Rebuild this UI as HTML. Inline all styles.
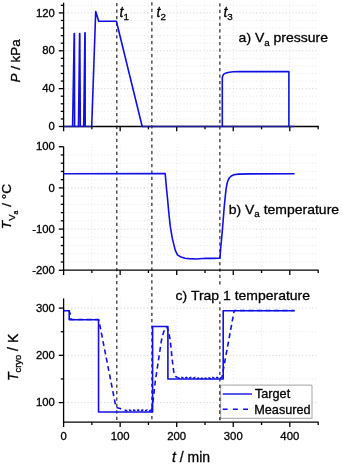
<!DOCTYPE html>
<html><head><meta charset="utf-8"><style>
html,body{margin:0;padding:0;background:#fff;}
body{width:342px;height:465px;overflow:hidden;font-family:"Liberation Sans",sans-serif;}
svg{display:block;will-change:transform;}
</style></head><body>
<svg width="342" height="465" viewBox="0 0 342 465">
<rect width="342" height="465" fill="#fff"/>
<line x1="64.6" y1="118.93" x2="318.7" y2="118.93" stroke="#e6e6e6" stroke-width="1" stroke-dasharray="1 2.3"/>
<line x1="64.6" y1="111.35" x2="318.7" y2="111.35" stroke="#e6e6e6" stroke-width="1" stroke-dasharray="1 2.3"/>
<line x1="64.6" y1="103.78" x2="318.7" y2="103.78" stroke="#e6e6e6" stroke-width="1" stroke-dasharray="1 2.3"/>
<line x1="64.6" y1="96.21" x2="318.7" y2="96.21" stroke="#e6e6e6" stroke-width="1" stroke-dasharray="1 2.3"/>
<line x1="64.6" y1="88.63" x2="318.7" y2="88.63" stroke="#d0d0d0" stroke-width="1" stroke-dasharray="1 2.3"/>
<line x1="64.6" y1="81.06" x2="318.7" y2="81.06" stroke="#e6e6e6" stroke-width="1" stroke-dasharray="1 2.3"/>
<line x1="64.6" y1="73.48" x2="318.7" y2="73.48" stroke="#e6e6e6" stroke-width="1" stroke-dasharray="1 2.3"/>
<line x1="64.6" y1="65.91" x2="318.7" y2="65.91" stroke="#e6e6e6" stroke-width="1" stroke-dasharray="1 2.3"/>
<line x1="64.6" y1="58.34" x2="318.7" y2="58.34" stroke="#e6e6e6" stroke-width="1" stroke-dasharray="1 2.3"/>
<line x1="64.6" y1="50.76" x2="318.7" y2="50.76" stroke="#d0d0d0" stroke-width="1" stroke-dasharray="1 2.3"/>
<line x1="64.6" y1="43.19" x2="318.7" y2="43.19" stroke="#e6e6e6" stroke-width="1" stroke-dasharray="1 2.3"/>
<line x1="64.6" y1="35.62" x2="318.7" y2="35.62" stroke="#e6e6e6" stroke-width="1" stroke-dasharray="1 2.3"/>
<line x1="64.6" y1="28.04" x2="318.7" y2="28.04" stroke="#e6e6e6" stroke-width="1" stroke-dasharray="1 2.3"/>
<line x1="64.6" y1="20.47" x2="318.7" y2="20.47" stroke="#e6e6e6" stroke-width="1" stroke-dasharray="1 2.3"/>
<line x1="64.6" y1="12.9" x2="318.7" y2="12.9" stroke="#d0d0d0" stroke-width="1" stroke-dasharray="1 2.3"/>
<line x1="64.6" y1="5.32" x2="318.7" y2="5.32" stroke="#e6e6e6" stroke-width="1" stroke-dasharray="1 2.3"/>
<line x1="64.6" y1="262.02" x2="318.7" y2="262.02" stroke="#e6e6e6" stroke-width="1" stroke-dasharray="1 2.3"/>
<line x1="64.6" y1="253.79" x2="318.7" y2="253.79" stroke="#e6e6e6" stroke-width="1" stroke-dasharray="1 2.3"/>
<line x1="64.6" y1="245.55" x2="318.7" y2="245.55" stroke="#e6e6e6" stroke-width="1" stroke-dasharray="1 2.3"/>
<line x1="64.6" y1="237.32" x2="318.7" y2="237.32" stroke="#e6e6e6" stroke-width="1" stroke-dasharray="1 2.3"/>
<line x1="64.6" y1="229.08" x2="318.7" y2="229.08" stroke="#d0d0d0" stroke-width="1" stroke-dasharray="1 2.3"/>
<line x1="64.6" y1="220.84" x2="318.7" y2="220.84" stroke="#e6e6e6" stroke-width="1" stroke-dasharray="1 2.3"/>
<line x1="64.6" y1="212.61" x2="318.7" y2="212.61" stroke="#e6e6e6" stroke-width="1" stroke-dasharray="1 2.3"/>
<line x1="64.6" y1="204.37" x2="318.7" y2="204.37" stroke="#e6e6e6" stroke-width="1" stroke-dasharray="1 2.3"/>
<line x1="64.6" y1="196.14" x2="318.7" y2="196.14" stroke="#e6e6e6" stroke-width="1" stroke-dasharray="1 2.3"/>
<line x1="64.6" y1="187.9" x2="318.7" y2="187.9" stroke="#d0d0d0" stroke-width="1" stroke-dasharray="1 2.3"/>
<line x1="64.6" y1="179.66" x2="318.7" y2="179.66" stroke="#e6e6e6" stroke-width="1" stroke-dasharray="1 2.3"/>
<line x1="64.6" y1="171.43" x2="318.7" y2="171.43" stroke="#e6e6e6" stroke-width="1" stroke-dasharray="1 2.3"/>
<line x1="64.6" y1="163.19" x2="318.7" y2="163.19" stroke="#e6e6e6" stroke-width="1" stroke-dasharray="1 2.3"/>
<line x1="64.6" y1="154.96" x2="318.7" y2="154.96" stroke="#e6e6e6" stroke-width="1" stroke-dasharray="1 2.3"/>
<line x1="64.6" y1="402.6" x2="318.7" y2="402.6" stroke="#d0d0d0" stroke-width="1" stroke-dasharray="1 2.3"/>
<line x1="64.6" y1="378.98" x2="318.7" y2="378.98" stroke="#e6e6e6" stroke-width="1" stroke-dasharray="1 2.3"/>
<line x1="64.6" y1="355.35" x2="318.7" y2="355.35" stroke="#d0d0d0" stroke-width="1" stroke-dasharray="1 2.3"/>
<line x1="64.6" y1="331.73" x2="318.7" y2="331.73" stroke="#e6e6e6" stroke-width="1" stroke-dasharray="1 2.3"/>
<line x1="64.6" y1="308.1" x2="318.7" y2="308.1" stroke="#d0d0d0" stroke-width="1" stroke-dasharray="1 2.3"/>
<line x1="91.88" y1="2.7" x2="91.88" y2="125.5" stroke="#e6e6e6" stroke-width="1" stroke-dasharray="1 2.3"/>
<line x1="91.88" y1="146.6" x2="91.88" y2="269.2" stroke="#e6e6e6" stroke-width="1" stroke-dasharray="1 2.3"/>
<line x1="91.88" y1="298.4" x2="91.88" y2="421.2" stroke="#e6e6e6" stroke-width="1" stroke-dasharray="1 2.3"/>
<line x1="120.15" y1="2.7" x2="120.15" y2="125.5" stroke="#e6e6e6" stroke-width="1" stroke-dasharray="1 2.3"/>
<line x1="120.15" y1="146.6" x2="120.15" y2="269.2" stroke="#e6e6e6" stroke-width="1" stroke-dasharray="1 2.3"/>
<line x1="120.15" y1="298.4" x2="120.15" y2="421.2" stroke="#e6e6e6" stroke-width="1" stroke-dasharray="1 2.3"/>
<line x1="148.43" y1="2.7" x2="148.43" y2="125.5" stroke="#e6e6e6" stroke-width="1" stroke-dasharray="1 2.3"/>
<line x1="148.43" y1="146.6" x2="148.43" y2="269.2" stroke="#e6e6e6" stroke-width="1" stroke-dasharray="1 2.3"/>
<line x1="148.43" y1="298.4" x2="148.43" y2="421.2" stroke="#e6e6e6" stroke-width="1" stroke-dasharray="1 2.3"/>
<line x1="176.7" y1="2.7" x2="176.7" y2="125.5" stroke="#e6e6e6" stroke-width="1" stroke-dasharray="1 2.3"/>
<line x1="176.7" y1="146.6" x2="176.7" y2="269.2" stroke="#e6e6e6" stroke-width="1" stroke-dasharray="1 2.3"/>
<line x1="176.7" y1="298.4" x2="176.7" y2="421.2" stroke="#e6e6e6" stroke-width="1" stroke-dasharray="1 2.3"/>
<line x1="204.97" y1="2.7" x2="204.97" y2="125.5" stroke="#e6e6e6" stroke-width="1" stroke-dasharray="1 2.3"/>
<line x1="204.97" y1="146.6" x2="204.97" y2="269.2" stroke="#e6e6e6" stroke-width="1" stroke-dasharray="1 2.3"/>
<line x1="204.97" y1="298.4" x2="204.97" y2="421.2" stroke="#e6e6e6" stroke-width="1" stroke-dasharray="1 2.3"/>
<line x1="233.25" y1="2.7" x2="233.25" y2="125.5" stroke="#e6e6e6" stroke-width="1" stroke-dasharray="1 2.3"/>
<line x1="233.25" y1="146.6" x2="233.25" y2="269.2" stroke="#e6e6e6" stroke-width="1" stroke-dasharray="1 2.3"/>
<line x1="233.25" y1="298.4" x2="233.25" y2="421.2" stroke="#e6e6e6" stroke-width="1" stroke-dasharray="1 2.3"/>
<line x1="261.53" y1="2.7" x2="261.53" y2="125.5" stroke="#e6e6e6" stroke-width="1" stroke-dasharray="1 2.3"/>
<line x1="261.53" y1="146.6" x2="261.53" y2="269.2" stroke="#e6e6e6" stroke-width="1" stroke-dasharray="1 2.3"/>
<line x1="261.53" y1="298.4" x2="261.53" y2="421.2" stroke="#e6e6e6" stroke-width="1" stroke-dasharray="1 2.3"/>
<line x1="289.8" y1="2.7" x2="289.8" y2="125.5" stroke="#e6e6e6" stroke-width="1" stroke-dasharray="1 2.3"/>
<line x1="289.8" y1="146.6" x2="289.8" y2="269.2" stroke="#e6e6e6" stroke-width="1" stroke-dasharray="1 2.3"/>
<line x1="289.8" y1="298.4" x2="289.8" y2="421.2" stroke="#e6e6e6" stroke-width="1" stroke-dasharray="1 2.3"/>
<line x1="116.75" y1="3.02" x2="116.75" y2="421" stroke="#505050" stroke-width="1.5" stroke-dasharray="3.25 3.215"/>
<line x1="151.85" y1="2.31" x2="151.85" y2="421" stroke="#505050" stroke-width="1.5" stroke-dasharray="3.25 3.215"/>
<line x1="219.85" y1="3.31" x2="219.85" y2="421" stroke="#505050" stroke-width="1.5" stroke-dasharray="3.25 3.215"/>
<line x1="63.6" y1="2.7" x2="63.6" y2="127.15" stroke="#000" stroke-width="1.3" />
<line x1="62.95" y1="126.5" x2="318.7" y2="126.5" stroke="#000" stroke-width="1.3" />
<line x1="63.6" y1="126.5" x2="63.6" y2="131.3" stroke="#000" stroke-width="1.3" />
<line x1="91.88" y1="126.5" x2="91.88" y2="129.3" stroke="#000" stroke-width="1.3" />
<line x1="120.15" y1="126.5" x2="120.15" y2="131.3" stroke="#000" stroke-width="1.3" />
<line x1="148.43" y1="126.5" x2="148.43" y2="129.3" stroke="#000" stroke-width="1.3" />
<line x1="176.7" y1="126.5" x2="176.7" y2="131.3" stroke="#000" stroke-width="1.3" />
<line x1="204.97" y1="126.5" x2="204.97" y2="129.3" stroke="#000" stroke-width="1.3" />
<line x1="233.25" y1="126.5" x2="233.25" y2="131.3" stroke="#000" stroke-width="1.3" />
<line x1="261.53" y1="126.5" x2="261.53" y2="129.3" stroke="#000" stroke-width="1.3" />
<line x1="289.8" y1="126.5" x2="289.8" y2="131.3" stroke="#000" stroke-width="1.3" />
<line x1="318.2" y1="126.5" x2="318.2" y2="129.3" stroke="#000" stroke-width="1.3" />
<line x1="58.8" y1="126.5" x2="63.6" y2="126.5" stroke="#000" stroke-width="1.3" />
<line x1="60.8" y1="118.93" x2="63.6" y2="118.93" stroke="#000" stroke-width="1.3" />
<line x1="60.8" y1="111.35" x2="63.6" y2="111.35" stroke="#000" stroke-width="1.3" />
<line x1="60.8" y1="103.78" x2="63.6" y2="103.78" stroke="#000" stroke-width="1.3" />
<line x1="60.8" y1="96.21" x2="63.6" y2="96.21" stroke="#000" stroke-width="1.3" />
<line x1="58.8" y1="88.63" x2="63.6" y2="88.63" stroke="#000" stroke-width="1.3" />
<line x1="60.8" y1="81.06" x2="63.6" y2="81.06" stroke="#000" stroke-width="1.3" />
<line x1="60.8" y1="73.48" x2="63.6" y2="73.48" stroke="#000" stroke-width="1.3" />
<line x1="60.8" y1="65.91" x2="63.6" y2="65.91" stroke="#000" stroke-width="1.3" />
<line x1="60.8" y1="58.34" x2="63.6" y2="58.34" stroke="#000" stroke-width="1.3" />
<line x1="58.8" y1="50.76" x2="63.6" y2="50.76" stroke="#000" stroke-width="1.3" />
<line x1="60.8" y1="43.19" x2="63.6" y2="43.19" stroke="#000" stroke-width="1.3" />
<line x1="60.8" y1="35.62" x2="63.6" y2="35.62" stroke="#000" stroke-width="1.3" />
<line x1="60.8" y1="28.04" x2="63.6" y2="28.04" stroke="#000" stroke-width="1.3" />
<line x1="60.8" y1="20.47" x2="63.6" y2="20.47" stroke="#000" stroke-width="1.3" />
<line x1="58.8" y1="12.9" x2="63.6" y2="12.9" stroke="#000" stroke-width="1.3" />
<line x1="60.8" y1="5.32" x2="63.6" y2="5.32" stroke="#000" stroke-width="1.3" />
<line x1="63.6" y1="146.6" x2="63.6" y2="270.85" stroke="#000" stroke-width="1.3" />
<line x1="62.95" y1="270.2" x2="318.7" y2="270.2" stroke="#000" stroke-width="1.3" />
<line x1="63.6" y1="270.2" x2="63.6" y2="275" stroke="#000" stroke-width="1.3" />
<line x1="91.88" y1="270.2" x2="91.88" y2="273" stroke="#000" stroke-width="1.3" />
<line x1="120.15" y1="270.2" x2="120.15" y2="275" stroke="#000" stroke-width="1.3" />
<line x1="148.43" y1="270.2" x2="148.43" y2="273" stroke="#000" stroke-width="1.3" />
<line x1="176.7" y1="270.2" x2="176.7" y2="275" stroke="#000" stroke-width="1.3" />
<line x1="204.97" y1="270.2" x2="204.97" y2="273" stroke="#000" stroke-width="1.3" />
<line x1="233.25" y1="270.2" x2="233.25" y2="275" stroke="#000" stroke-width="1.3" />
<line x1="261.53" y1="270.2" x2="261.53" y2="273" stroke="#000" stroke-width="1.3" />
<line x1="289.8" y1="270.2" x2="289.8" y2="275" stroke="#000" stroke-width="1.3" />
<line x1="318.2" y1="270.2" x2="318.2" y2="273" stroke="#000" stroke-width="1.3" />
<line x1="58.8" y1="270.26" x2="63.6" y2="270.26" stroke="#000" stroke-width="1.3" />
<line x1="60.8" y1="262.02" x2="63.6" y2="262.02" stroke="#000" stroke-width="1.3" />
<line x1="60.8" y1="253.79" x2="63.6" y2="253.79" stroke="#000" stroke-width="1.3" />
<line x1="60.8" y1="245.55" x2="63.6" y2="245.55" stroke="#000" stroke-width="1.3" />
<line x1="60.8" y1="237.32" x2="63.6" y2="237.32" stroke="#000" stroke-width="1.3" />
<line x1="58.8" y1="229.08" x2="63.6" y2="229.08" stroke="#000" stroke-width="1.3" />
<line x1="60.8" y1="220.84" x2="63.6" y2="220.84" stroke="#000" stroke-width="1.3" />
<line x1="60.8" y1="212.61" x2="63.6" y2="212.61" stroke="#000" stroke-width="1.3" />
<line x1="60.8" y1="204.37" x2="63.6" y2="204.37" stroke="#000" stroke-width="1.3" />
<line x1="60.8" y1="196.14" x2="63.6" y2="196.14" stroke="#000" stroke-width="1.3" />
<line x1="58.8" y1="187.9" x2="63.6" y2="187.9" stroke="#000" stroke-width="1.3" />
<line x1="60.8" y1="179.66" x2="63.6" y2="179.66" stroke="#000" stroke-width="1.3" />
<line x1="60.8" y1="171.43" x2="63.6" y2="171.43" stroke="#000" stroke-width="1.3" />
<line x1="60.8" y1="163.19" x2="63.6" y2="163.19" stroke="#000" stroke-width="1.3" />
<line x1="60.8" y1="154.96" x2="63.6" y2="154.96" stroke="#000" stroke-width="1.3" />
<line x1="58.8" y1="146.72" x2="63.6" y2="146.72" stroke="#000" stroke-width="1.3" />
<line x1="63.6" y1="298.4" x2="63.6" y2="422.85" stroke="#000" stroke-width="1.3" />
<line x1="62.95" y1="422.2" x2="318.7" y2="422.2" stroke="#000" stroke-width="1.3" />
<line x1="63.6" y1="422.2" x2="63.6" y2="427" stroke="#000" stroke-width="1.3" />
<line x1="91.88" y1="422.2" x2="91.88" y2="425" stroke="#000" stroke-width="1.3" />
<line x1="120.15" y1="422.2" x2="120.15" y2="427" stroke="#000" stroke-width="1.3" />
<line x1="148.43" y1="422.2" x2="148.43" y2="425" stroke="#000" stroke-width="1.3" />
<line x1="176.7" y1="422.2" x2="176.7" y2="427" stroke="#000" stroke-width="1.3" />
<line x1="204.97" y1="422.2" x2="204.97" y2="425" stroke="#000" stroke-width="1.3" />
<line x1="233.25" y1="422.2" x2="233.25" y2="427" stroke="#000" stroke-width="1.3" />
<line x1="261.53" y1="422.2" x2="261.53" y2="425" stroke="#000" stroke-width="1.3" />
<line x1="289.8" y1="422.2" x2="289.8" y2="427" stroke="#000" stroke-width="1.3" />
<line x1="318.2" y1="422.2" x2="318.2" y2="425" stroke="#000" stroke-width="1.3" />
<line x1="58.8" y1="402.6" x2="63.6" y2="402.6" stroke="#000" stroke-width="1.3" />
<line x1="60.8" y1="378.98" x2="63.6" y2="378.98" stroke="#000" stroke-width="1.3" />
<line x1="58.8" y1="355.35" x2="63.6" y2="355.35" stroke="#000" stroke-width="1.3" />
<line x1="60.8" y1="331.73" x2="63.6" y2="331.73" stroke="#000" stroke-width="1.3" />
<line x1="58.8" y1="308.1" x2="63.6" y2="308.1" stroke="#000" stroke-width="1.3" />
<line x1="63.6" y1="126.5" x2="92" y2="126.5" stroke="#1c1c9c" stroke-width="1.4" />
<line x1="142" y1="126.5" x2="294.3" y2="126.5" stroke="#1c1c9c" stroke-width="1.4" />
<polyline points="72.6,126.5 74.2,33.6 74.4,33.6 74.6,126.5" fill="none" stroke="#1010e6" stroke-width="1.6" stroke-linejoin="round" />
<polyline points="78.5,126.5 79.6,33.6 79.8,33.6 80.3,126.5" fill="none" stroke="#1010e6" stroke-width="1.6" stroke-linejoin="round" />
<polyline points="83.7,126.5 84.9,32.7 85.1,32.7 85.2,126.5" fill="none" stroke="#1010e6" stroke-width="1.6" stroke-linejoin="round" />
<polyline points="91.7,126.5 95.7,11.5 98.7,21.3 116.4,21.3 142.2,126.5" fill="none" stroke="#1010e6" stroke-width="1.6" stroke-linejoin="round" />
<path d="M222.3,126.5 L222.3,78.5 Q222.5,73.6 226,73.0 Q229,72.2 233,71.8 L240,71.6 L288.9,71.6 L288.9,126.5" fill="none" stroke="#1010e6" stroke-width="1.6" stroke-linejoin="round"/>
<polyline points="63.6,173.8 165.2,173.6 166.3,186.5 167.4,197.3 169,214.5 170.3,226.7 172.3,238.4 175.2,250.1 177.5,254.8 181,257.1 185,258.2 189.2,258.6 195.8,259 206.3,258.2 212,258.4 219.9,258.2 220.6,249 221.5,240 222.5,228.7 224.1,208.5 225.4,195 226.2,188.2 227.2,183 228.2,180.1 229.6,177.5 231.2,176.1 234,174.8 238.3,174.1 250,173.9 294.6,173.8" fill="none" stroke="#1010e6" stroke-width="1.6" stroke-linejoin="round"/>
<polyline points="63.9,310.8 69.2,310.8 69.2,319.8 98.55,319.8 98.55,412 152.6,412 152.6,326.5 167.9,326.5 167.9,379 223.2,379 223.2,310.8 294.6,310.8" fill="none" stroke="#1010e6" stroke-width="1.6" stroke-linejoin="round" stroke-linejoin="miter"/>
<polyline points="63.9,310.5 69,310.8 70.5,314.5 71,319.5 98.6,319.5 99.6,324 116,407.3 120,408.5 125,410" fill="none" stroke="#1010e6" stroke-width="1.6" stroke-linejoin="round" stroke-dasharray="5 3.5" stroke-dashoffset="4.3"/>
<polyline points="125,410 127.2,411 129.4,410 131.6,411 133.8,410 136,411 138.2,410 140.4,411 142.6,410 144.8,411 147,410 149.2,411 151.4,410" fill="none" stroke="#1010e6" stroke-width="1.6" stroke-linejoin="round" stroke-dasharray="2.6 1.8"/>
<polyline points="151.6,410.8 152.6,405 155.2,382 158.3,361.3 161.4,340.7 163.5,332.5 165.3,328.2 166.8,327 168.5,331 170.3,340.7 172.4,361.3 173.8,372 175.5,376.5 177.5,377.4" fill="none" stroke="#1010e6" stroke-width="1.6" stroke-linejoin="round" stroke-dasharray="5 3.5"/>
<polyline points="177.5,377.4 179.7,378.6 181.9,377.4 184.1,378.6 186.3,377.4 188.5,378.6 190.7,377.4 192.9,378.6 195.1,377.4 197.3,378.6 199.5,377.4 201.7,378.6 203.9,377.4 206.1,378.6 208.3,377.4 210.5,378.6 212.7,377.4 214.9,378.6 217.1,377.4 219.3,378.6 221.5,377.4" fill="none" stroke="#1010e6" stroke-width="1.6" stroke-linejoin="round" stroke-dasharray="2.6 1.8"/>
<polyline points="221.8,378 234.2,310.5 294.6,310.5" fill="none" stroke="#1010e6" stroke-width="1.6" stroke-linejoin="round" stroke-dasharray="5 3.5" stroke-dashoffset="2"/>
<rect x="220.6" y="385.2" width="91.4" height="33.2" rx="1" fill="#fff" stroke="#b4b4b4" stroke-width="1.2"/>
<clipPath id="lc"><rect x="210" y="384" width="20" height="36"/></clipPath>
<line x1="219.85" y1="3.31" x2="219.85" y2="421" stroke="#505050" stroke-width="1.5" stroke-dasharray="3.25 3.215" clip-path="url(#lc)"/>
<line x1="222.7" y1="394" x2="251.9" y2="394" stroke="#1010e6" stroke-width="1.4" />
<line x1="222.7" y1="409.3" x2="249" y2="409.3" stroke="#1010e6" stroke-width="1.5" stroke-dasharray="4.9 5.3"/>
<text x="54.9" y="130.2" font-size="11.3" text-anchor="end" font-family="Liberation Sans, sans-serif" stroke="#000" stroke-width="0.3" >0</text>
<text x="54.9" y="92.33" font-size="11.3" text-anchor="end" font-family="Liberation Sans, sans-serif" stroke="#000" stroke-width="0.3" >40</text>
<text x="54.9" y="54.46" font-size="11.3" text-anchor="end" font-family="Liberation Sans, sans-serif" stroke="#000" stroke-width="0.3" >80</text>
<text x="54.9" y="16.6" font-size="11.3" text-anchor="end" font-family="Liberation Sans, sans-serif" stroke="#000" stroke-width="0.3" >120</text>
<text x="54.9" y="150.42" font-size="11.3" text-anchor="end" font-family="Liberation Sans, sans-serif" stroke="#000" stroke-width="0.3" >100</text>
<text x="54.9" y="191.6" font-size="11.3" text-anchor="end" font-family="Liberation Sans, sans-serif" stroke="#000" stroke-width="0.3" >0</text>
<text x="54.9" y="232.78" font-size="11.3" text-anchor="end" font-family="Liberation Sans, sans-serif" stroke="#000" stroke-width="0.3" >-100</text>
<text x="54.9" y="273.96" font-size="11.3" text-anchor="end" font-family="Liberation Sans, sans-serif" stroke="#000" stroke-width="0.3" >-200</text>
<text x="54.9" y="406.3" font-size="11.3" text-anchor="end" font-family="Liberation Sans, sans-serif" stroke="#000" stroke-width="0.3" >100</text>
<text x="54.9" y="359.05" font-size="11.3" text-anchor="end" font-family="Liberation Sans, sans-serif" stroke="#000" stroke-width="0.3" >200</text>
<text x="54.9" y="311.8" font-size="11.3" text-anchor="end" font-family="Liberation Sans, sans-serif" stroke="#000" stroke-width="0.3" >300</text>
<text x="63.6" y="439.9" font-size="11.3" text-anchor="middle" font-family="Liberation Sans, sans-serif" stroke="#000" stroke-width="0.3" >0</text>
<text x="120.15" y="439.9" font-size="11.3" text-anchor="middle" font-family="Liberation Sans, sans-serif" stroke="#000" stroke-width="0.3" >100</text>
<text x="176.7" y="439.9" font-size="11.3" text-anchor="middle" font-family="Liberation Sans, sans-serif" stroke="#000" stroke-width="0.3" >200</text>
<text x="233.25" y="439.9" font-size="11.3" text-anchor="middle" font-family="Liberation Sans, sans-serif" stroke="#000" stroke-width="0.3" >300</text>
<text x="289.8" y="439.9" font-size="11.3" text-anchor="middle" font-family="Liberation Sans, sans-serif" stroke="#000" stroke-width="0.3" >400</text>
<rect x="237.5" y="31" width="91" height="16" fill="#fff"/>
<rect x="228" y="201.5" width="110.5" height="16" fill="#fff"/>
<rect x="175" y="285" width="135" height="16.5" fill="#fff"/>
<rect x="118.5" y="6" width="11" height="13" fill="#fff"/>
<rect x="153.5" y="6" width="11" height="13" fill="#fff"/>
<rect x="222.0" y="6" width="11" height="13" fill="#fff"/>
<text transform="translate(238.6,42.3) scale(1,0.93)" font-size="14" font-family="Liberation Sans, sans-serif" stroke="#000" stroke-width="0.3">a) V<tspan font-size="9.8" dy="3.6">a</tspan><tspan dy="-3.6"> pressure</tspan></text>
<text transform="translate(228.7,213.7) scale(1,0.93)" font-size="14" font-family="Liberation Sans, sans-serif" stroke="#000" stroke-width="0.3">b) V<tspan font-size="9.8" dy="3.6">a</tspan><tspan dy="-3.6"> temperature</tspan></text>
<text transform="translate(175.6,299.8) scale(1,0.93)" font-size="14" font-family="Liberation Sans, sans-serif" stroke="#000" stroke-width="0.3">c) Trap 1 temperature</text>
<text x="119.6" y="16.6" font-size="14" text-anchor="start" font-family="Liberation Sans, sans-serif" stroke="#000" stroke-width="0.3" ><tspan font-style="italic">t</tspan><tspan font-size="9.8" dy="3.3">1</tspan></text>
<text x="156.6" y="16.6" font-size="14" text-anchor="start" font-family="Liberation Sans, sans-serif" stroke="#000" stroke-width="0.3" ><tspan font-style="italic">t</tspan><tspan font-size="9.8" dy="3.3">2</tspan></text>
<text x="223.4" y="16.6" font-size="14" text-anchor="start" font-family="Liberation Sans, sans-serif" stroke="#000" stroke-width="0.3" ><tspan font-style="italic">t</tspan><tspan font-size="9.8" dy="3.3">3</tspan></text>
<text transform="translate(254.9,398.1) scale(1,0.94)" font-size="12.7" font-family="Liberation Sans, sans-serif" stroke="#000" stroke-width="0.3">Target</text>
<text transform="translate(254.2,414.1) scale(1,0.94)" font-size="12.7" font-family="Liberation Sans, sans-serif" stroke="#000" stroke-width="0.3">Measured</text>
<text x="172" y="461.6" font-size="14" text-anchor="start" font-family="Liberation Sans, sans-serif" stroke="#000" stroke-width="0.3" ><tspan font-style="italic">t</tspan> / min</text>
<text transform="translate(19.8,60.9) rotate(-90)" font-size="13.4" text-anchor="middle" font-family="Liberation Sans, sans-serif" stroke="#000" stroke-width="0.3"><tspan font-style="italic">P</tspan> / kPa</text>
<text transform="translate(11.4,206.5) rotate(-90)" font-size="13.7" text-anchor="middle" font-family="Liberation Sans, sans-serif" stroke="#000" stroke-width="0.3"><tspan font-style="italic">T</tspan><tspan font-size="9.6" dy="3.3">V</tspan><tspan font-size="6.8" dy="3.7">a</tspan><tspan dy="-7"> / °C</tspan></text>
<text transform="translate(17.6,357.4) rotate(-90)" font-size="14" text-anchor="middle" font-family="Liberation Sans, sans-serif" stroke="#000" stroke-width="0.3"><tspan font-style="italic">T</tspan><tspan font-size="9.4" dy="3.3">cryo</tspan><tspan dy="-3.3"> / K</tspan></text>
</svg>
</body></html>
